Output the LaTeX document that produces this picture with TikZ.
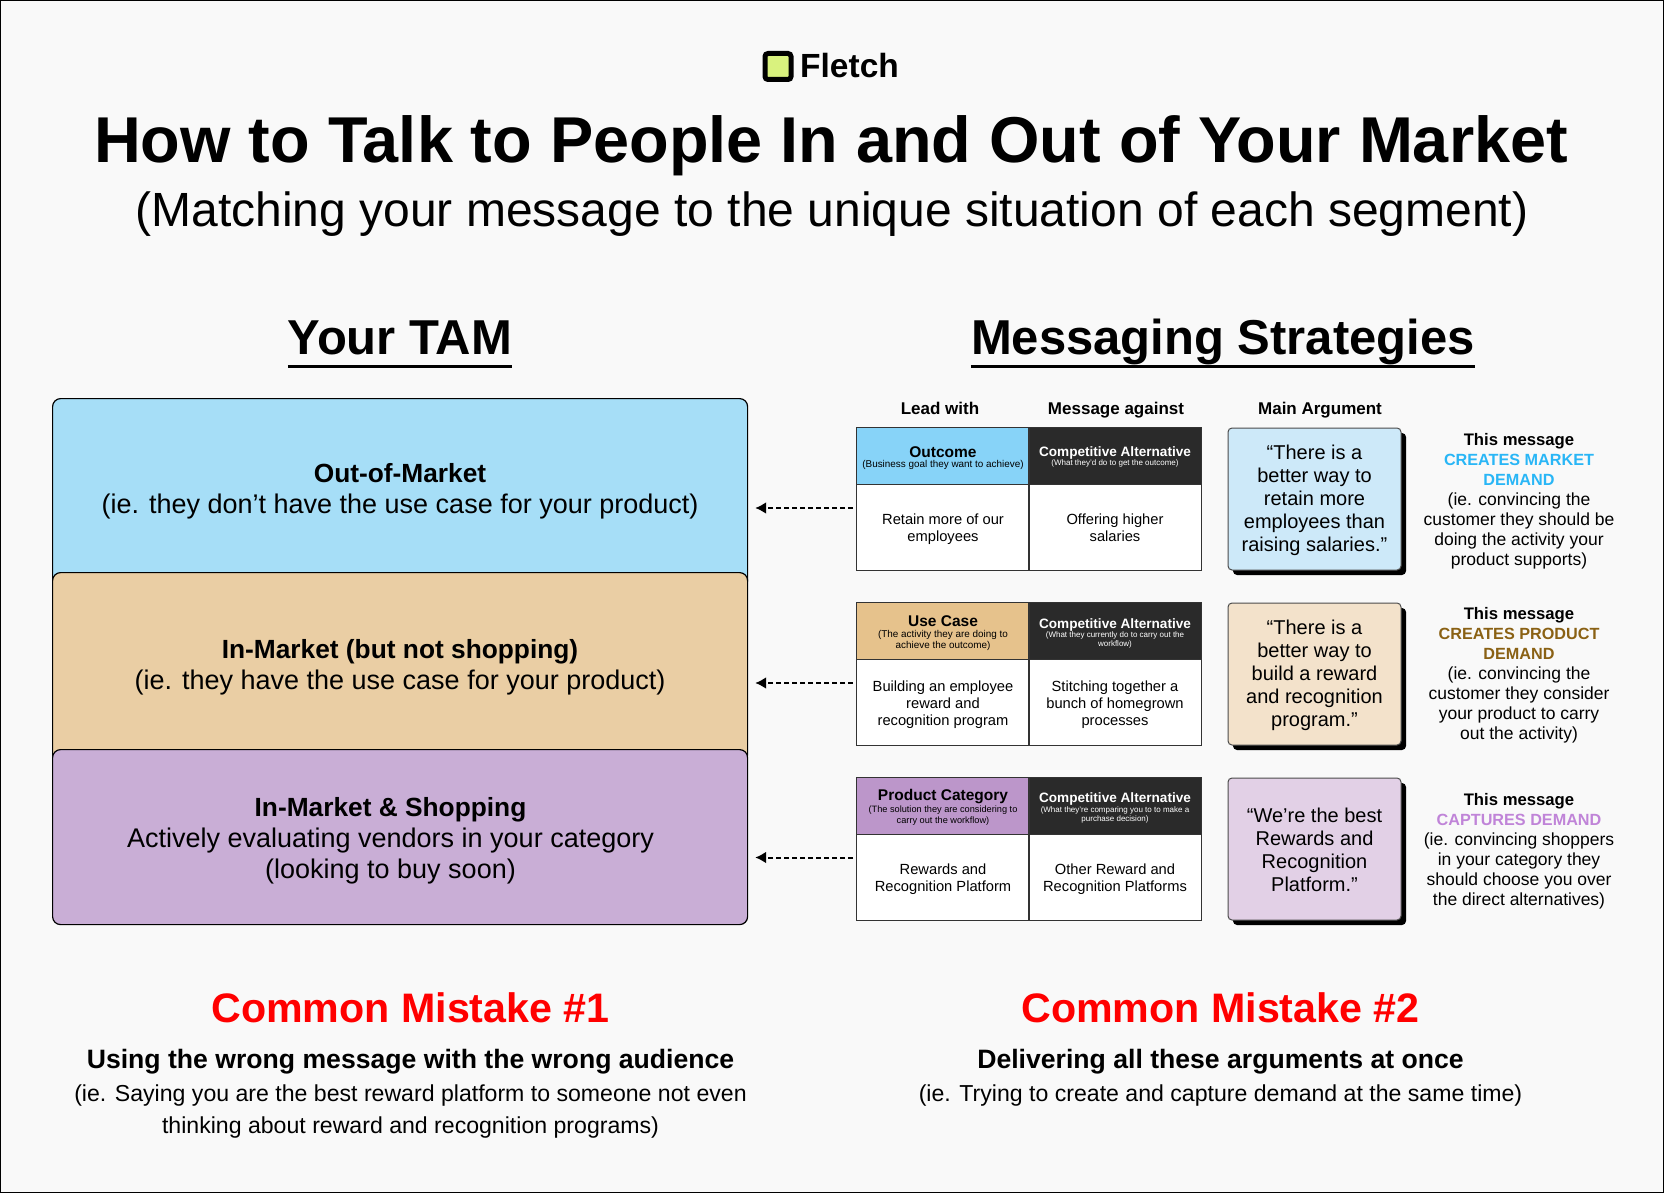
\documentclass[tikz,border=0pt]{standalone}
\usepackage{fontspec}
\setmainfont{Liberation Sans}
\usetikzlibrary{arrows.meta,shadows}
\definecolor{pagebg}{HTML}{F9F9F9}
\definecolor{logogreen}{HTML}{D9F27E}
\definecolor{outbox}{HTML}{A6DEF7}
\definecolor{inbox}{HTML}{EACEA4}
\definecolor{shopbox}{HTML}{C9AED6}
\definecolor{outhead}{HTML}{87D3F8}
\definecolor{inhead}{HTML}{E6C28C}
\definecolor{shophead}{HTML}{BC96CA}
\definecolor{althead}{HTML}{2A2A2A}
\definecolor{outquote}{HTML}{CDE9F9}
\definecolor{inquote}{HTML}{F3E2CB}
\definecolor{shopquote}{HTML}{E2D0E6}
\definecolor{outword}{HTML}{29B6F6}
\definecolor{inword}{HTML}{8A6114}
\definecolor{shopword}{HTML}{C084D8}
\newcommand{\fs}[2]{\fontsize{#1}{#2}\selectfont}
\newcommand{\bigb}[1]{{\fs{26.3}{31}\bfseries #1}}
\newcommand{\sideb}[1]{{\fs{16.7}{20}\bfseries #1}}
\newcommand{\sidec}[2]{{\fs{16.2}{20}\bfseries\color{#1} #2}}
\tikzset{
	x=1pt,y=-1pt,
	lbl/.style={inner sep=0pt,align=center,text=black},
	tambox/.style={draw=black,line width=1.2pt,rounded corners=8pt,minimum width=695pt,anchor=north west,inner sep=0pt},
	cell/.style={draw=black!80,line width=1.3pt,fill=white,minimum width=172.5pt,inner sep=0pt},
	quotebox/.style={draw=black!70,line width=1pt,rounded corners=4pt,minimum width=173pt,minimum height=142pt,inner sep=0pt,
		drop shadow={shadow xshift=5pt,shadow yshift=-5pt,opacity=1,fill=black}},
	quotetxt/.style={lbl,font=\fs{20}{23}},
	bigtitle/.style={lbl,anchor=base,font=\fs{49}{60}\bfseries},
	headtxt/.style={lbl,font=\fs{15.5}{17}\bfseries},
	alttitle/.style={lbl,text=white,font=\fs{13.6}{17}\bfseries},
	subtxt/.style={lbl,font=\fs{9.9}{11}},
	alttxt/.style={lbl,text=white,font=\fs{8}{9}},
	bodytxt/.style={lbl,font=\fs{14.7}{17}},
	tamtxt/.style={lbl,font=\fs{27}{31}},
	sidetxt/.style={lbl,font=\fs{17.5}{20}},
	mistake/.style={lbl,text=red,font=\fs{41.2}{48}\bfseries},
	misthead/.style={lbl,font=\fs{26.6}{32}\bfseries},
	misttxt/.style={lbl,font=\fs{23.1}{32}},
	coltxt/.style={lbl,anchor=base,font=\fs{17}{20}\bfseries},
	pointer/.style={dash pattern=on 5pt off 3pt,line width=2pt,-{Latex[length=11pt,width=12pt]},shorten >=7pt},
}
\begin{document}
\begin{tikzpicture}
	\useasboundingbox (0,0) rectangle (1664,1193);
	\draw[fill=pagebg,draw=black,line width=2pt] (0,0) rectangle (1664,1193);
	% header
	\node[draw=black,line width=5pt,fill=logogreen,rounded corners=3pt,minimum size=26pt,inner sep=0pt] (logo) at (778,66.5) {};
	\node[lbl,font=\fs{33.5}{40}\bfseries,anchor=west] (brand) at (800,66) {Fletch};
	\node[lbl,font=\fs{64.8}{80}\bfseries] (title) at (831,146) {How to Talk to People In and Out of Your Market};
	\node[lbl,font=\fs{48}{56}] (subtitle) at (832,214) {(Matching your message to the unique situation of each segment)};
	\node[bigtitle] (tamhead) at (400,354) {Your TAM};
	\node[bigtitle] (stratshead) at (1223,354) {Messaging Strategies};
	\draw[line width=3pt] ([yshift=-12pt]tamhead.base west)--([yshift=-12pt]tamhead.base east);
	\draw[line width=3pt] ([yshift=-12pt]stratshead.base west)--([yshift=-12pt]stratshead.base east);
	% tam
	\node[tambox,fill=outbox,minimum height=190pt] (outm) at (52,398) {};
	\node[tambox,fill=inbox,minimum height=190pt] (inm) at (52,572) {};
	\node[tambox,fill=shopbox,minimum height=175pt] (shopm) at (52,749) {};
	\node[tamtxt] (outmtxt) at (400,491) {\bigb{Out-of-Market}\\(ie. they don’t have the use case for your product)};
	\node[tamtxt] (inmtxt) at (400,667) {\bigb{In-Market (but not shopping)}\\(ie. they have the use case for your product)};
	\node[tamtxt] (shopmtxt) at (390.5,840.5) {\bigb{In-Market \& Shopping}\\Actively evaluating vendors in your category\\(looking to buy soon)};
	% columns
	\node[coltxt] (leadcol) at (940,414) {Lead with};
	\node[coltxt] (againstcol) at (1116,414) {Message against};
	\node[coltxt] (argcol) at (1320,414) {Main Argument};
	% first row
	\node[cell,fill=outhead,minimum height=57pt] (ahead) at (942.8,456.2) {};
	\node[cell,fill=althead,minimum height=57pt] (bhead) at (1115.2,456.2) {};
	\node[cell,minimum height=86pt] (abody) at (942.8,527.7) {};
	\node[cell,minimum height=86pt] (bbody) at (1115.2,527.7) {};
	\node[headtxt] (ahtxt) at (943,452) {Outcome};
	\node[subtxt] (astxt) at (943,465) {(Business goal they want to achieve)};
	\node[alttitle] (bhtxt) at (1115,453) {Competitive Alternative};
	\node[alttxt] (bstxt) at (1115,463.5) {(What they’d do to get the outcome)};
	\node[bodytxt] (abtxt) at (943,529.5) {Retain more of our\\employees};
	\node[bodytxt] (bbtxt) at (1115,527.5) {Offering higher\\salaries};
	% second row
	\node[cell,fill=inhead,minimum height=57pt] (chead) at (942.8,631.2) {};
	\node[cell,fill=althead,minimum height=57pt] (dhead) at (1115.2,631.2) {};
	\node[cell,minimum height=86pt] (cbody) at (942.8,702.7) {};
	\node[cell,minimum height=86pt] (dbody) at (1115.2,702.7) {};
	\node[headtxt] (chtxt) at (943,621) {Use Case};
	\node[subtxt] (cstxt) at (943,640.5) {(The activity they are doing to\\achieve the outcome)};
	\node[alttitle] (dhtxt) at (1115,625) {Competitive Alternative};
	\node[alttxt] (dstxt) at (1115,639.5) {(What they currently do to carry out the\\workflow)};
	\node[bodytxt] (cbtxt) at (943,705) {Building an employee\\reward and\\recognition program};
	\node[bodytxt] (dbtxt) at (1115,705) {Stitching together a\\bunch of homegrown\\processes};
	% third row
	\node[cell,fill=shophead,minimum height=57pt] (ehead) at (942.8,806) {};
	\node[cell,fill=althead,minimum height=57pt] (fhead) at (1115.2,806) {};
	\node[cell,minimum height=86pt] (ebody) at (942.8,877.5) {};
	\node[cell,minimum height=86pt] (fbody) at (1115.2,877.5) {};
	\node[headtxt] (ehtxt) at (943,797) {Product Category};
	\node[subtxt,font=\fs{9.2}{11}] (estxt) at (943,815.5) {(The solution they are considering to\\carry out the workflow)};
	\node[alttitle] (fhtxt) at (1115,798.5) {Competitive Alternative};
	\node[alttxt] (fstxt) at (1115,814.5) {(What they’re comparing you to to make a\\purchase decision)};
	\node[bodytxt] (ebtxt) at (943,879) {Rewards and\\Recognition Platform};
	\node[bodytxt] (fbtxt) at (1115,879) {Other Reward and\\Recognition Platforms};
	% arguments
	\node[quotebox,fill=outquote] (aquote) at (1314.5,499) {};
	\node[quotebox,fill=inquote] (bquote) at (1314.5,674) {};
	\node[quotebox,fill=shopquote] (cquote) at (1314.5,849) {};
	\node[quotetxt] (aqtxt) at (1314.5,500.5) {“There is a\\better way to\\retain more\\employees than\\raising salaries.”};
	\node[quotetxt] (bqtxt) at (1314.5,675.5) {“There is a\\better way to\\build a reward\\and recognition\\program.”};
	\node[quotetxt] (cqtxt) at (1314.5,850) {“We’re the best\\Rewards and\\Recognition\\Platform.”};
	% side notes
	\node[sidetxt] (anote) at (1519,501.5) {\sideb{This message}\\\sidec{outword}{CREATES MARKET}\\\sidec{outword}{DEMAND}\\(ie. convincing the\\customer they should be\\doing the activity your\\product supports)};
	\node[sidetxt] (bnote) at (1519,675) {\sideb{This message}\\\sidec{inword}{CREATES PRODUCT}\\\sidec{inword}{DEMAND}\\(ie. convincing the\\customer they consider\\your product to carry\\out the activity)};
	\node[sidetxt] (cnote) at (1519,851) {\sideb{This message}\\\sidec{shopword}{CAPTURES DEMAND}\\(ie. convincing shoppers\\in your category they\\should choose you over\\the direct alternatives)};
	% pointers
	\coordinate (atail) at (853,508);
	\coordinate (btail) at (853,683);
	\coordinate (ctail) at (853,857.5);
	\draw[pointer] (atail)--(outm.east |- atail);
	\draw[pointer] (btail)--(inm.east |- btail);
	\draw[pointer] (ctail)--(shopm.east |- ctail);
	% mistakes
	\node[mistake] (mistone) at (410.5,1008) {Common Mistake \#1};
	\node[mistake] (misttwo) at (1220.5,1008) {Common Mistake \#2};
	\node[misthead] (mistonehead) at (410.5,1062) {Using the wrong message with the wrong audience};
	\node[misthead] (misttwohead) at (1220.5,1062) {Delivering all these arguments at once};
	\node[misttxt] (mistonetxt) at (410.5,1111.5) {(ie. Saying you are the best reward platform to someone not even\\thinking about reward and recognition programs)};
	\node[misttxt] (misttwotxt) at (1220.5,1095.5) {(ie. Trying to create and capture demand at the same time)};
\end{tikzpicture}
\end{document}
